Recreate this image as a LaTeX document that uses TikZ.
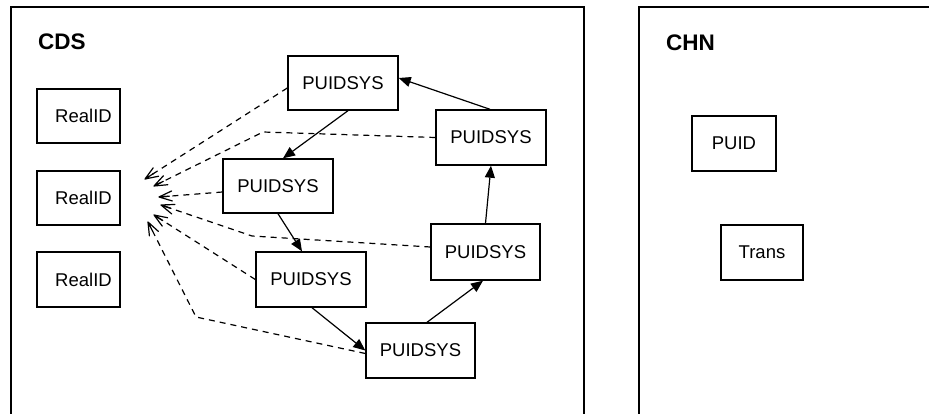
\documentclass[tikz,border=0pt]{standalone}
\usepackage{fontspec}
\setmainfont{Liberation Sans}
\usetikzlibrary{arrows.meta}
\pgfdeclarearrow{
  name = OpenVee,
  parameters = {\the\pgfarrowlength,\the\pgfarrowwidth},
  setup code = {
    \pgfarrowssettipend{0pt}
    \pgfarrowssetlineend{-0.5\pgflinewidth}
    \pgfarrowsupperhullpoint{-\pgfarrowlength}{.5\pgfarrowwidth}
    \pgfarrowshullpoint{0pt}{0pt}
    \pgfarrowssavethe\pgfarrowlength
    \pgfarrowssavethe\pgfarrowwidth
  },
  drawing code = {
    \pgfsetdash{}{0pt}
    \pgfsetroundjoin
    \pgfsetroundcap
    \pgfpathmoveto{\pgfqpoint{-\pgfarrowlength}{.5\pgfarrowwidth}}
    \pgfpathlineto{\pgfpointorigin}
    \pgfpathlineto{\pgfqpoint{-\pgfarrowlength}{-.5\pgfarrowwidth}}
    \pgfpathmoveto{\pgfqpoint{-.8\pgfarrowlength}{0pt}}
    \pgfpathlineto{\pgfpointorigin}
    \pgfusepathqstroke
  },
  defaults = {length=13pt, width=10pt}
}
\begin{document}
\begin{tikzpicture}[x=1pt,y=-1pt,
  box/.style={draw,line width=1.4pt,inner sep=0pt,font=\fontsize{18.5}{20}\selectfont},
  frameline/.style={line width=1.4pt},
  title/.style={font=\fontsize{22.5}{24}\selectfont\bfseries,anchor=west,inner sep=0pt},
  flow/.style={line width=1.2pt,-{Triangle[length=12pt,width=10pt]}},
  ref/.style={line width=1.2pt,dash pattern=on 6pt off 5pt,-{OpenVee[length=13pt,width=10pt]}}]
\useasboundingbox (0,0) rectangle (929,414);
% frames
\draw[frameline] (11,414) -- (11,7) -- (584,7) -- (584,414);
\draw[frameline] (639,414) -- (639,7) -- (929,7);
\node[title] (cds) at (38,42) {CDS};
\node[title] (chn) at (666,43) {CHN};
% RealID boxes
\node[box,minimum width=83pt,minimum height=54pt] (r1) at (78.5,116) {\hspace{10pt}RealID};
\node[box,minimum width=83pt,minimum height=54pt] (r2) at (78.5,198) {\hspace{10pt}RealID};
\node[box,minimum width=83pt,minimum height=55pt] (r3) at (78.5,279.5) {\hspace{10pt}RealID};
% PUIDSYS boxes
\node[box,minimum width=110pt,minimum height=54pt] (p1) at (343,83) {PUIDSYS};
\node[box,minimum width=110pt,minimum height=54pt] (p2) at (278,186) {PUIDSYS};
\node[box,minimum width=110pt,minimum height=55pt] (p3) at (311,279.5) {PUIDSYS};
\node[box,minimum width=109pt,minimum height=55pt] (p4) at (420.5,350.5) {PUIDSYS};
\node[box,minimum width=109pt,minimum height=56pt] (p5) at (485.5,252) {PUIDSYS};
\node[box,minimum width=110pt,minimum height=55pt] (p6) at (491,137.5) {PUIDSYS};
% CHN boxes
\node[box,minimum width=84pt,minimum height=55pt] (puid) at (734,143.5) {PUID};
\node[box,minimum width=82pt,minimum height=55pt] (trans) at (762,252.5) {Trans};
% arrow tip targets
\coordinate (t1) at (145,179);
\coordinate (t2) at (154,186);
\coordinate (t3) at (159,197);
\coordinate (t4) at (161,205);
\coordinate (t5) at (154,215);
\coordinate (t6) at (148,222);
% solid flow
\draw[flow] ([xshift=5pt]p1.south) -- ([xshift=5pt]p2.north);
\draw[flow] (p2.south) -- ([xshift=-9pt]p3.north);
\draw[flow] ([xshift=1pt]p3.south) -- (p4.west);
\draw[flow] ([xshift=6.5pt]p4.north) -- ([xshift=-2.5pt]p5.south);
\draw[flow] (p5.north) -- (p6.south);
\draw[flow] ([xshift=-1pt]p6.north) -- ([yshift=5pt]p1.east);
% dashed references
\draw[ref] ([yshift=-5pt]p1.west) -- (t1);
\draw[ref] (p6.west) -- (263,132) -- (t2);
\draw[ref] ([yshift=-6pt]p2.west) -- (t3);
\draw[ref] ([yshift=5pt]p5.west) -- (252,236) -- (t4);
\draw[ref] (p3.west) -- (t5);
\draw[ref] ([yshift=-3pt]p4.west) -- (196,317) -- (t6);
\end{tikzpicture}
\end{document}
